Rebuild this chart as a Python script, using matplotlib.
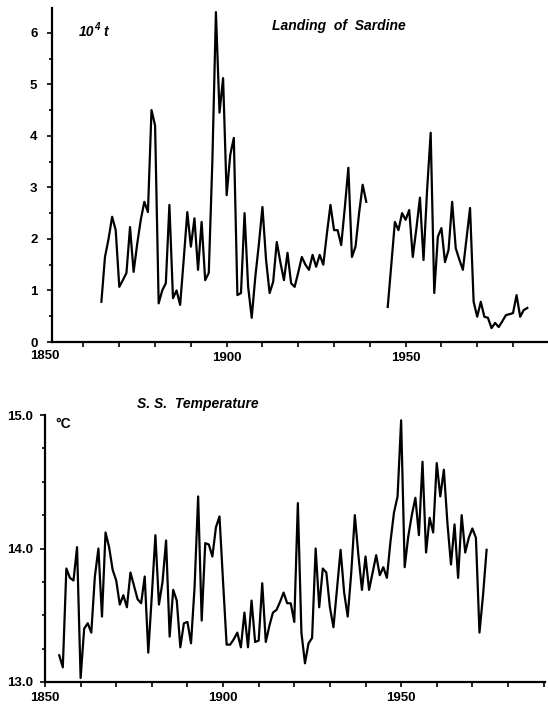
import numpy as np
import matplotlib
matplotlib.use("Agg")
import matplotlib.pyplot as plt
from matplotlib.ticker import MultipleLocator

plt.rcParams['font.family'] = ['Liberation Sans', 'DejaVu Sans']

# landing of sardine (10^4 t), two runs with a gap in the war years
sardine_years_a = list(range(1865, 1940))
sardine_a = [0.78, 1.65, 2.00, 2.43, 2.17, 1.07, 1.20, 1.34, 2.23, 1.36,
             1.90, 2.37, 2.72, 2.52, 4.50, 4.20, 0.75, 1.00, 1.14, 2.66,
             0.85, 1.00, 0.72, 1.60, 2.52, 1.85, 2.40, 1.40, 2.33, 1.20,
             1.34, 3.50, 6.40, 4.45, 5.12, 2.85, 3.63, 3.96, 0.91, 0.95,
             2.50, 1.07, 0.47, 1.26, 1.90, 2.62, 1.60, 0.95, 1.17, 1.94,
             1.55, 1.20, 1.73, 1.14, 1.07, 1.35, 1.65, 1.50, 1.40, 1.69,
             1.46, 1.69, 1.50, 2.10, 2.66, 2.17, 2.17, 1.88, 2.60, 3.38,
             1.65, 1.85, 2.50, 3.05, 2.72]
sardine_years_b = list(range(1945, 1985))
sardine_b = [0.68, 1.50, 2.33, 2.17, 2.50, 2.37, 2.56, 1.65, 2.20, 2.80,
             1.59, 2.95, 4.06, 0.95, 2.04, 2.21, 1.55, 1.79, 2.72, 1.82,
             1.60, 1.40, 2.00, 2.60, 0.78, 0.49, 0.78, 0.49, 0.47, 0.27,
             0.37, 0.29, 0.40, 0.52, 0.54, 0.56, 0.91, 0.49, 0.62, 0.66]

# sea surface temperature (deg C)
temp_years = list(range(1854, 1975))
temp = [13.20, 13.11, 13.85, 13.78, 13.76, 14.01, 13.03, 13.40, 13.44, 13.37,
        13.79, 14.00, 13.49, 14.12, 14.01, 13.84, 13.76, 13.58, 13.65, 13.56,
        13.82, 13.72, 13.62, 13.59, 13.79, 13.22, 13.65, 14.10, 13.58, 13.75,
        14.06, 13.34, 13.69, 13.61, 13.26, 13.44, 13.45, 13.29, 13.71, 14.39,
        13.46, 14.04, 14.03, 13.94, 14.16, 14.24, 13.75, 13.28, 13.28, 13.32,
        13.37, 13.26, 13.52, 13.26, 13.61, 13.30, 13.31, 13.74, 13.30, 13.42,
        13.52, 13.54, 13.60, 13.67, 13.59, 13.59, 13.45, 14.34, 13.37, 13.14,
        13.29, 13.33, 14.00, 13.56, 13.85, 13.82, 13.56, 13.41, 13.70, 13.99,
        13.67, 13.49, 13.82, 14.25, 13.95, 13.69, 13.94, 13.69, 13.82, 13.95,
        13.80, 13.86, 13.78, 14.05, 14.27, 14.39, 14.96, 13.86, 14.09, 14.25,
        14.38, 14.10, 14.65, 13.97, 14.23, 14.12, 14.64, 14.39, 14.59, 14.19,
        13.88, 14.18, 13.78, 14.25, 13.97, 14.08, 14.15, 14.08, 13.37, 13.65,
        13.99]

W, H = 548, 707
fig = plt.figure(figsize=(W / 100, H / 100), dpi=100)
fig.patch.set_facecolor('white')

TICK_FS = 9.5
tick_font = dict(fontsize=TICK_FS, fontweight='bold')


def style(ax):
    for s in ['top', 'right']:
        ax.spines[s].set_visible(False)
    for s in ['left', 'bottom']:
        ax.spines[s].set_linewidth(1.6)
        ax.spines[s].set_color('black')
    ax.tick_params(which='both', direction='out', width=1.2, colors='black')
    ax.tick_params(which='major', length=3.5)
    ax.tick_params(which='minor', length=2)
    for lab in ax.get_xticklabels() + ax.get_yticklabels():
        lab.set_fontweight('bold')
        lab.set_fontsize(TICK_FS)


# top panel: sardine
ax1 = fig.add_axes([52 / W, 1 - 342 / H, (547 - 52) / W, (342 - 8) / H])
ax1.plot(sardine_years_a, sardine_a, color='black', lw=1.6)
ax1.plot(sardine_years_b, sardine_b, color='black', lw=1.6)
ax1.set_xlim(1851.2, 1989.5)
ax1.set_ylim(0, 6.48)
ax1.set_yticks(range(0, 7))
ax1.yaxis.set_minor_locator(MultipleLocator(0.5))
xt = list(range(1860, 1990, 10))
ax1.set_xticks(xt)
ax1.set_xticklabels([str(y) if y in (1900, 1950) else '' for y in xt])
ax1.tick_params(axis='x', pad=4)
ax1.tick_params(axis='y', pad=7)
style(ax1)
fig.text(45 / W, 1 - 356 / H, '1850', ha='center', va='center', **tick_font)
fig.text(79 / W, 1 - 32 / H, '10', ha='left', va='center',
         fontsize=10, fontweight='bold', style='italic')
fig.text(94 / W, 1 - 27 / H, '4', ha='left', va='center',
         fontsize=7, fontweight='bold', style='italic')
fig.text(103 / W, 1 - 32 / H, 't', ha='left', va='center',
         fontsize=10, fontweight='bold', style='italic')
fig.text(272 / W, 1 - 26 / H, 'Landing  of  Sardine', ha='left', va='center',
         fontsize=10, fontweight='bold', style='italic')

# bottom panel: temperature
ax2 = fig.add_axes([45 / W, 1 - 682 / H, (545 - 45) / W, (682 - 415) / H])
ax2.plot(temp_years, temp, color='black', lw=1.6)
ax2.set_xlim(1850, 1990.4)
ax2.set_ylim(13.0, 15.0)
ax2.set_yticks([13.0, 14.0, 15.0])
ax2.set_yticklabels(['13.0', '14.0', '15.0'])
ax2.yaxis.set_minor_locator(MultipleLocator(0.25))
xt2 = list(range(1850, 1991, 10))
ax2.set_xticks(xt2)
ax2.set_xticklabels([str(y) if y in (1850, 1900, 1950) else '' for y in xt2])
ax2.tick_params(axis='x', pad=4)
ax2.tick_params(axis='y', pad=5)
style(ax2)
fig.text(55 / W, 1 - 424 / H, '\u00b0C', ha='left', va='center',
         fontsize=10, fontweight='bold')
fig.text(137 / W, 1 - 404 / H, 'S. S.  Temperature', ha='left', va='center',
         fontsize=10, fontweight='bold', style='italic')

fig.savefig('out.png', dpi=100, facecolor='white')
